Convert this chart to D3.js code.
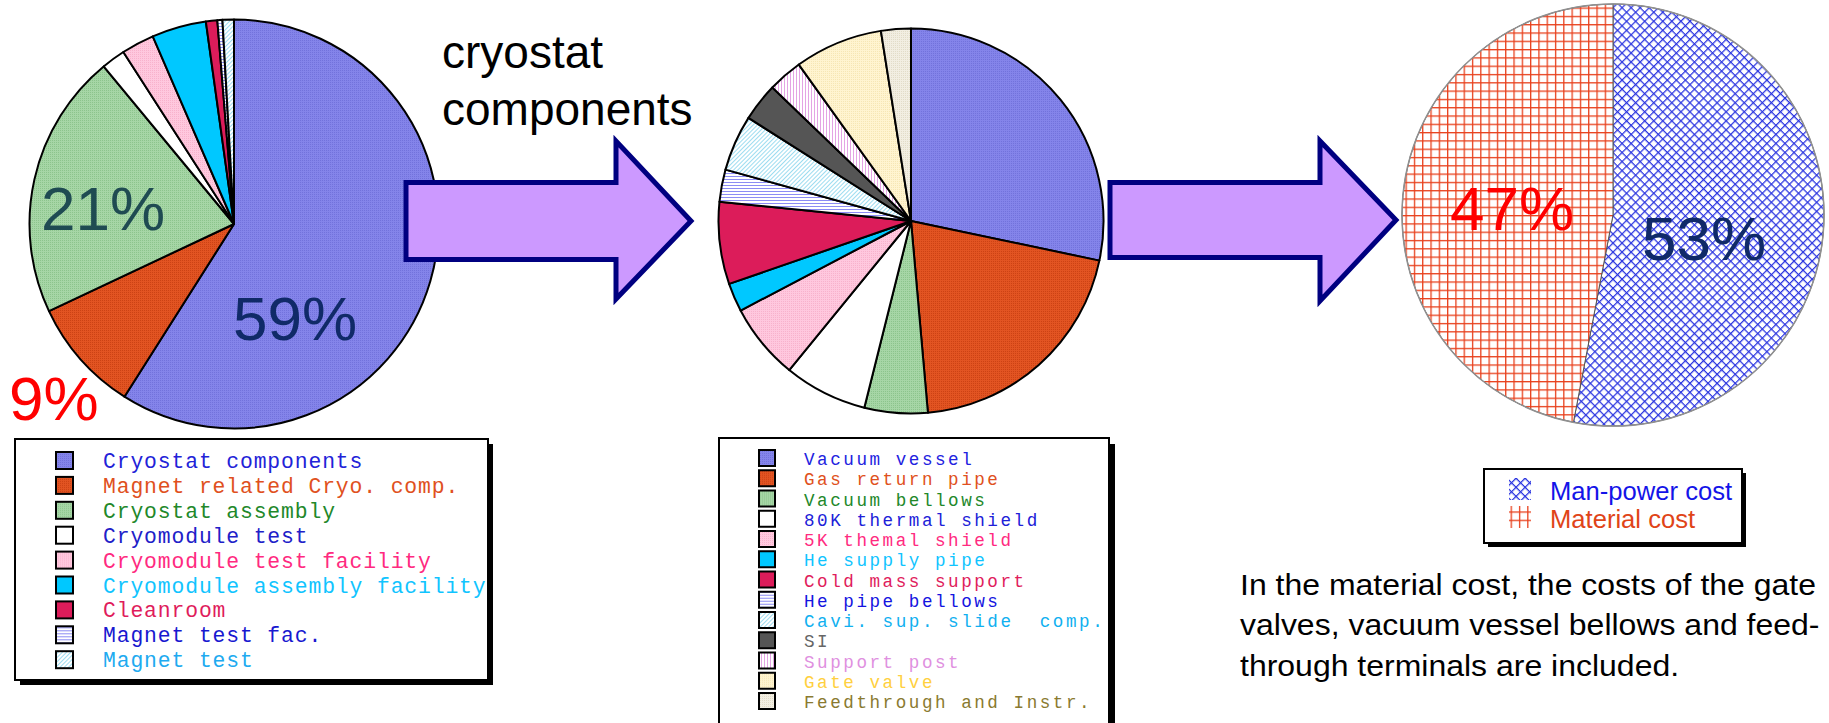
<!DOCTYPE html>
<html>
<head>
<meta charset="utf-8">
<script src="https://cdn.jsdelivr.net/npm/d3@7"></script>
<style>
  html, body { margin: 0; padding: 0; background: #ffffff; }
  svg { display: block; }
</style>
</head>
<body>
<svg id="chart" width="1829" height="723"></svg>
<script>
// ---- Cost breakdown: cryomodule total ----
const cryoCategories = [
  "Cryostat components", "Magnet related Cryo. comp.", "Cryostat assembly",
  "Cryomodule test", "Cryomodule test facility", "Cryomodule assembly facility",
  "Cleanroom", "Magnet test fac.", "Magnet test"
];
const cryoValues = [59, 9, 21, 1.9, 2.6, 4.3, 0.9, 0.4, 0.9];
const cryoLabelText = ["59%", "9%", "21%"];

// ---- Cost breakdown: cryostat components ----
const compCategories = [
  "Vacuum vessel", "Gas return pipe", "Vacuum bellows", "80K thermal shield",
  "5K themal shield", "He supply pipe", "Cold mass support", "He pipe bellows",
  "Cavi. sup. slide  comp.", "SI", "Support post", "Gate valve", "Feedthrough and Instr."
];
const compValues = [28.3, 20.3, 5.3, 7.0, 6.4, 2.4, 6.9, 2.7, 4.7, 3.2, 2.9, 7.4, 2.5];

// ---- Cryostat components: man-power vs material ----
const costCategories = ["Man-power cost", "Material cost"];
const costValues = [53, 47];

const noteLines = [
  "In the material cost, the costs of the gate",
  "valves, vacuum vessel bellows and feed-",
  "through terminals are included."
];

const svg = d3.select("#chart");
const defs = svg.append("defs");

// fine stipple texture: base colour with a darker dot every other pixel
function stipple(id, base, dot) {
  const p = defs.append("pattern").attr("id", id)
    .attr("patternUnits", "userSpaceOnUse").attr("width", 2).attr("height", 2);
  p.append("rect").attr("width", 2).attr("height", 2).attr("fill", base);
  p.append("rect").attr("width", 1).attr("height", 1).attr("fill", dot);
}
function lines(id, color, size, transform, bg) {
  const p = defs.append("pattern").attr("id", id)
    .attr("patternUnits", "userSpaceOnUse").attr("width", size).attr("height", size);
  if (transform) p.attr("patternTransform", transform);
  p.append("rect").attr("width", size).attr("height", size).attr("fill", bg || "#ffffff");
  p.append("line").attr("x1", 0).attr("x2", size).attr("y1", 0.5).attr("y2", 0.5)
    .attr("stroke", color).attr("stroke-width", 1);
}
function grid(id, color, size, transform, width) {
  const p = defs.append("pattern").attr("id", id)
    .attr("patternUnits", "userSpaceOnUse").attr("width", size).attr("height", size);
  if (transform) p.attr("patternTransform", transform);
  p.append("rect").attr("width", size).attr("height", size).attr("fill", "#ffffff");
  p.append("line").attr("x1", 0).attr("x2", size).attr("y1", 0.6).attr("y2", 0.6)
    .attr("stroke", color).attr("stroke-width", width);
  p.append("line").attr("y1", 0).attr("y2", size).attr("x1", 0.6).attr("x2", 0.6)
    .attr("stroke", color).attr("stroke-width", width);
}

stipple("pBlue", "#8484ea", "#7272dc");
stipple("pOrange", "#e25422", "#cc4214");
stipple("pGreen", "#a6d6a6", "#8cc48c");
stipple("pPink", "#ffc8de", "#f8b2cc");
stipple("pYellow", "#fff4d0", "#f6e6b4");
stipple("pBeige", "#f2eee2", "#e2dcc8");
lines("pHBlue", "#8c8cf4", 3);
lines("pDiagCyan", "#9cdcf0", 3, "rotate(-45)");
lines("pVViolet", "#e4a4e4", 3, "rotate(90)");
grid("pCross", "#2a34e0", 6.4, "rotate(45)", 1.3);
grid("pGrid", "#e8401c", 8.3, null, 1.4);

const cryoFills = ["url(#pBlue)", "url(#pOrange)", "url(#pGreen)", "#ffffff", "url(#pPink)",
  "#00c8ff", "#dc1c5a", "url(#pHBlue)", "url(#pDiagCyan)"];
const cryoText = ["#2222d8", "#e05020", "#22882a", "#2020c8", "#ff2a80", "#10c4ff",
  "#e01c5c", "#1818d0", "#20aaf0"];
const compFills = ["url(#pBlue)", "url(#pOrange)", "url(#pGreen)", "#ffffff", "url(#pPink)",
  "#00c8ff", "#dc1c5a", "url(#pHBlue)", "url(#pDiagCyan)", "#555555", "url(#pVViolet)",
  "url(#pYellow)", "url(#pBeige)"];
const compText = ["#2222e0", "#e05020", "#22882a", "#2020d8", "#ff2a80", "#10c4ff",
  "#e01c5c", "#1414e0", "#10b0f0", "#666666", "#e090e0", "#ffd040", "#8a7a30"];
const costFills = ["url(#pCross)", "url(#pGrid)"];
const costText = ["#1414e8", "#e04418"];

const pie = d3.pie().sort(null).value(d => d);

function drawPie(values, fills, cx, cy, r, stroke, strokeW) {
  const g = svg.append("g").attr("transform", `translate(${cx},${cy})`);
  const arc = d3.arc().innerRadius(0).outerRadius(r);
  g.selectAll("path").data(pie(values)).join("path")
    .attr("d", arc)
    .attr("fill", (d, i) => fills[i])
    .attr("stroke", stroke)
    .attr("stroke-width", strokeW)
    .attr("stroke-linejoin", "round");
  return g;
}

// ---- pies ----
drawPie(cryoValues, cryoFills, 234, 224, 204.5, "#000000", 2);
drawPie(compValues, compFills, 911, 221, 192.5, "#000000", 2);
const g3 = drawPie(costValues, costFills, 1613, 215, 211, "#555555", 1);
g3.append("circle").attr("r", 211).attr("fill", "none").attr("stroke", "#909090").attr("stroke-width", 1.5);

// ---- percentage labels ----
const pctFont = "Arial, 'Liberation Sans', sans-serif";
const pctLabels = [
  { t: cryoLabelText[0], x: 233, y: 340, c: "#102a68" },
  { t: cryoLabelText[2], x: 41, y: 230, c: "#1f4b52" },
  { t: cryoLabelText[1], x: 9, y: 420, c: "#ff0000" },
  { t: costValues[1] + "%", x: 1450, y: 230, c: "#ff0000" },
  { t: costValues[0] + "%", x: 1642, y: 260, c: "#102a68" }
];
svg.append("g").selectAll("text").data(pctLabels).join("text")
  .attr("x", d => d.x).attr("y", d => d.y)
  .attr("fill", d => d.c)
  .attr("font-family", pctFont).attr("font-size", 62)
  .text(d => d.t);

// ---- arrows ----
function arrow(x0, yTop, yBot, xHead, hTop, hBot, xTip) {
  const ym = (yTop + yBot) / 2;
  const pts = [[x0, yTop], [xHead, yTop], [xHead, hTop], [xTip, ym],
    [xHead, hBot], [xHead, yBot], [x0, yBot]];
  svg.append("path")
    .attr("d", d3.line()(pts) + "Z")
    .attr("fill", "#cc99ff")
    .attr("stroke", "#000080")
    .attr("stroke-width", 5)
    .attr("stroke-linejoin", "miter");
}
arrow(406, 182.5, 259.5, 616, 141, 299, 691);
arrow(1110, 182.5, 257.5, 1320, 141, 301, 1396);

// arrow caption
svg.append("text")
  .attr("font-family", pctFont).attr("font-size", 46).attr("fill", "#000000")
  .selectAll("tspan").data(["cryostat", "components"]).join("tspan")
  .attr("x", 442).attr("y", (d, i) => 68 + i * 57)
  .text(d => d);

// ---- boxed legends ----
function legendBox(x, y, w, h, shadow) {
  svg.append("rect").attr("x", x + shadow).attr("y", y + shadow)
    .attr("width", w).attr("height", h).attr("fill", "#000000");
  svg.append("rect").attr("x", x).attr("y", y).attr("width", w).attr("height", h)
    .attr("fill", "#ffffff").attr("stroke", "#000000").attr("stroke-width", 2);
}
const mono = "'Courier New', 'Liberation Mono', monospace";

function monoLegend(names, fills, colors, sx, tx, base0, step, sq, fs, ls) {
  const g = svg.append("g");
  const rows = g.selectAll("g").data(names).join("g")
    .attr("transform", (d, i) => `translate(0,${base0 + i * step})`);
  rows.append("rect")
    .attr("x", sx).attr("y", -sq + 1).attr("width", sq).attr("height", sq)
    .attr("fill", (d, i) => fills[i]).attr("stroke", "#000000").attr("stroke-width", 2);
  rows.append("text")
    .attr("x", tx).attr("y", 0)
    .attr("font-family", mono).attr("font-size", fs)
    .attr("letter-spacing", ls)
    .attr("fill", (d, i) => colors[i])
    .attr("xml:space", "preserve")
    .style("white-space", "pre")
    .text(d => d);
}

legendBox(15, 439, 473, 241, 5);
monoLegend(cryoCategories, cryoFills, cryoText, 56, 103, 468, 24.9, 17, 21.4, 0.86);

legendBox(719, 438, 390, 300, 6);
monoLegend(compCategories, compFills, compText, 759, 804, 465, 20.25, 16, 17.6, 2.54);

// man-power / material legend
legendBox(1484, 469, 258, 74, 4);
const lg3 = svg.append("g");
const l3 = lg3.selectAll("g").data(costCategories).join("g")
  .attr("transform", (d, i) => `translate(0,${500 + i * 28})`);
l3.append("rect").attr("x", 1509).attr("y", -22).attr("width", 22).attr("height", 22)
  .attr("fill", (d, i) => costFills[i]);
l3.append("text").attr("x", 1550).attr("y", 0)
  .attr("font-family", pctFont).attr("font-size", 25.6)
  .attr("fill", (d, i) => costText[i])
  .text(d => d);

// ---- note ----
svg.append("g").attr("transform", "translate(1240,0) scale(1.07,1)")
  .append("text")
  .attr("font-family", pctFont).attr("font-size", 29.9).attr("fill", "#000000")
  .selectAll("tspan").data(noteLines).join("tspan")
  .attr("x", 0).attr("y", (d, i) => 595 + i * 40.5)
  .text(d => d);
</script>
</body>
</html>
